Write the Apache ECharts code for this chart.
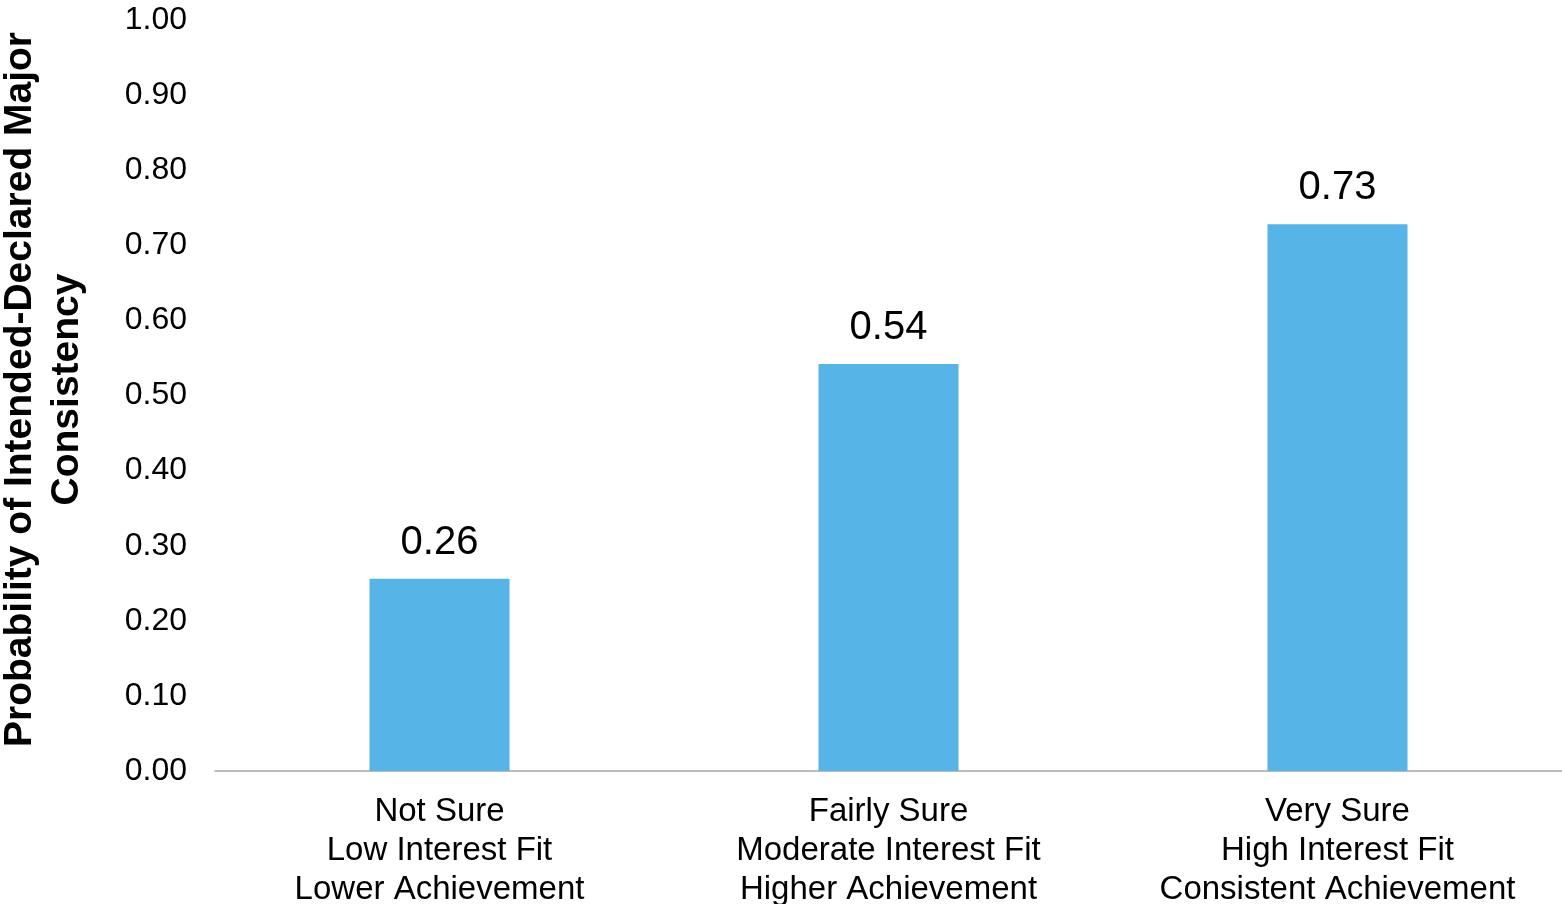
<!DOCTYPE html>
<html>
<head>
<meta charset="utf-8">
<script src="https://cdn.jsdelivr.net/npm/echarts@6/dist/echarts.min.js"></script>
<style>
html,body{margin:0;padding:0;background:#fff;}
#chart{width:1562px;height:904px;}
</style>
</head>
<body>
<div id="chart"></div>
<script>
const categories = [
  "Not Sure\nLow Interest Fit\nLower Achievement",
  "Fairly Sure\nModerate Interest Fit\nHigher Achievement",
  "Very Sure\nHigh Interest Fit\nConsistent Achievement"
];
const probabilities = [0.256, 0.542, 0.728];
const yTitle = "Probability of Intended-Declared Major\nConsistency";

const chart = echarts.init(document.getElementById('chart'));
chart.setOption({
  animation: false,
  backgroundColor: '#ffffff',
  textStyle: { fontFamily: 'Liberation Sans, Arial, sans-serif' },
  grid: { left: 215, right: 0, top: 20, bottom: 133, containLabel: false, outerBoundsMode: 'none' },
  xAxis: {
    type: 'category',
    data: categories,
    axisLine: { show: true, lineStyle: { color: '#a6a6a6', width: 1.5 } },
    axisTick: { show: false },
    axisLabel: {
      color: '#000',
      fontSize: 33,
      lineHeight: 39,
      margin: 21,
      interval: 0,
      fontFamily: 'Liberation Sans, Arial, sans-serif'
    },
    splitLine: { show: false }
  },
  yAxis: {
    type: 'value',
    min: 0,
    max: 1,
    interval: 0.1,
    name: yTitle,
    nameLocation: 'middle',
    nameRotate: 90,
    nameGap: 124,
    nameTextStyle: {
      color: '#000',
      fontSize: 39,
      fontWeight: 'bold',
      lineHeight: 47,
      padding: [0, 0, 0, 12],
      fontFamily: 'Liberation Sans, Arial, sans-serif'
    },
    axisLine: { show: false },
    axisTick: { show: false },
    splitLine: { show: false },
    axisLabel: {
      color: '#000',
      fontSize: 32,
      margin: 28,
      formatter: v => v.toFixed(2),
      fontFamily: 'Liberation Sans, Arial, sans-serif'
    }
  },
  series: [{
    type: 'bar',
    data: probabilities,
    barWidth: 140,
    itemStyle: { color: '#56b4e7' },
    label: {
      show: true,
      position: 'top',
      distance: 16,
      color: '#000',
      fontSize: 40,
      fontFamily: 'Liberation Sans, Arial, sans-serif',
      formatter: p => p.value.toFixed(2)
    }
  }]
});
</script>
</body>
</html>
